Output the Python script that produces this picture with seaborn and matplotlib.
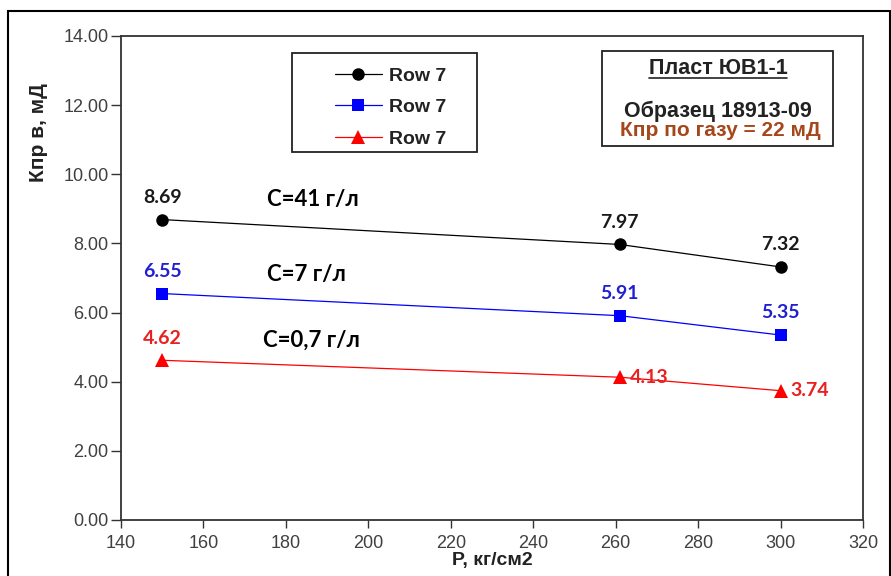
import seaborn as sns
from matplotlib import pyplot as plt
from matplotlib.patches import Rectangle
from matplotlib.lines import Line2D
import pandas as pd

sns.set_style('ticks')
plt.rcParams['font.family'] = ['Liberation Sans', 'DejaVu Sans']

# data
pressure = [150, 261, 300]
k_41 = [8.69, 7.97, 7.32]
k_7 = [6.55, 5.91, 5.35]
k_07 = [4.62, 4.13, 3.74]
curve_names = ['C=41 г/л', 'C=7 г/л', 'C=0,7 г/л']
legend_label = 'Row 7'
x_ticks = [140, 160, 180, 200, 220, 240, 260, 280, 300, 320]
y_ticks = [0, 2, 4, 6, 8, 10, 12, 14]

df = pd.DataFrame({
    'P': pressure * 3,
    'K': k_41 + k_7 + k_07,
    'series': [curve_names[0]] * 3 + [curve_names[1]] * 3 + [curve_names[2]] * 3,
})

W, H = 891, 576
fig = plt.figure(figsize=(W / 100, H / 100), dpi=100)
ax = fig.add_axes([121 / W, 56 / H, 742 / W, 484 / H])

styles = {
    curve_names[0]: dict(color='black', marker='o', ms=9, lab='#1a1a1a'),
    curve_names[1]: dict(color='#0000ff', marker='s', ms=8.5, lab='#2020d0'),
    curve_names[2]: dict(color='#ff0000', marker='^', ms=9.5, lab='#e82020'),
}

for name in curve_names:
    st = styles[name]
    sub = df[df['series'] == name]
    sns.lineplot(x='P', y='K', data=sub, ax=ax, color=st['color'], marker=st['marker'],
                 markersize=st['ms'], markeredgewidth=0, linewidth=0.9, label=legend_label)

# value labels
num_font = dict(family=['Lato', 'DejaVu Sans'], fontweight='bold', fontsize=14)
for name in curve_names:
    st = styles[name]
    sub = df[df['series'] == name].reset_index(drop=True)
    for i, row in sub.iterrows():
        txt = '%.2f' % row['K']
        if name == curve_names[2] and i > 0:
            ax.annotate(txt, (row['P'], row['K']), xytext=(7, 0), textcoords='offset points',
                        ha='left', va='center', color=st['lab'], **num_font)
        else:
            ax.annotate(txt, (row['P'], row['K']), xytext=(0, 16), textcoords='offset points',
                        ha='center', va='center', color=st['lab'], **num_font)

# curve captions
cap_font = dict(family=['Lato', 'DejaVu Sans'], fontweight='bold', fontsize=16, color='black')
ax.text(175.3, 9.26, curve_names[0], ha='left', va='center', **cap_font)
ax.text(175.3, 7.09, curve_names[1], ha='left', va='center', **cap_font)
ax.text(174.4, 5.21, curve_names[2], ha='left', va='center', **cap_font)

ax.set_xlim(140, 320)
ax.set_ylim(0, 14)
ax.set_xticks(x_ticks)
ax.set_yticks(y_ticks)
ax.set_yticklabels(['%.2f' % v for v in y_ticks])
ax.tick_params(axis='y', length=7, width=1, pad=2, labelsize=13, labelcolor='#404040', color='#333333')
ax.tick_params(axis='x', length=6, width=1, pad=5, labelsize=13, labelcolor='#404040', color='#333333')
for sp in ax.spines.values():
    sp.set_visible(True)
    sp.set_color('#333333')
    sp.set_linewidth(1.3)

ax.set_xlabel('P, кг/см2', fontsize=14, fontweight='bold', color='#222222')
ax.xaxis.set_label_coords(0.5, -0.066)
ax.set_ylabel('Кпр в, мД', fontsize=15, fontweight='bold', color='#222222')
ax.yaxis.set_label_coords(-0.098, 0.80)

# legend: frameless, boxed separately
handles = ax.get_lines()[:3]
leg = ax.legend(handles=handles, labels=[legend_label] * 3, loc='upper left',
                bbox_to_anchor=(335 / W, 1 - 67 / H), bbox_transform=fig.transFigure,
                frameon=False, borderpad=0, borderaxespad=0, handlelength=2.4,
                handletextpad=0.4, labelspacing=0.72,
                prop=dict(family='Liberation Sans', weight='bold', size=14))
for t in leg.get_texts():
    t.set_color('#222222')
fig.patches.append(Rectangle((292 / W, 1 - 152 / H), 185 / W, 99 / H, transform=fig.transFigure,
                             fill=False, edgecolor='#222222', linewidth=1.3))

# info box
fig.patches.append(Rectangle((602 / W, 1 - 146 / H), 231 / W, 95 / H, transform=fig.transFigure,
                             fill=False, edgecolor='#222222', linewidth=1.3))
info_font = dict(family='Liberation Sans', fontweight='bold', fontsize=15.5, ha='center', va='center')
t1 = fig.text(718 / W, 1 - 69 / H, 'Пласт ЮВ1-1', color='#222222', **info_font)
fig.text(718 / W, 1 - 111 / H, 'Образец 18913-09', color='#222222', **info_font)
fig.text(720 / W, 1 - 131 / H, 'Кпр по газу = 22 мД', color='#a5461b',
         **dict(info_font, fontsize=15))
fig.canvas.draw()
bb = t1.get_window_extent()
fig.lines.append(Line2D([bb.x0 / W, bb.x1 / W], [1 - 78 / H, 1 - 78 / H], transform=fig.transFigure,
                        color='#222222', linewidth=1.2))

# outer frame
fig.patches.append(Rectangle((8 / W, -0.01), 882 / W, 1.01 - 11 / H, transform=fig.transFigure,
                             fill=False, edgecolor='black', linewidth=1.5))

plt.savefig('out.png', dpi=100)
